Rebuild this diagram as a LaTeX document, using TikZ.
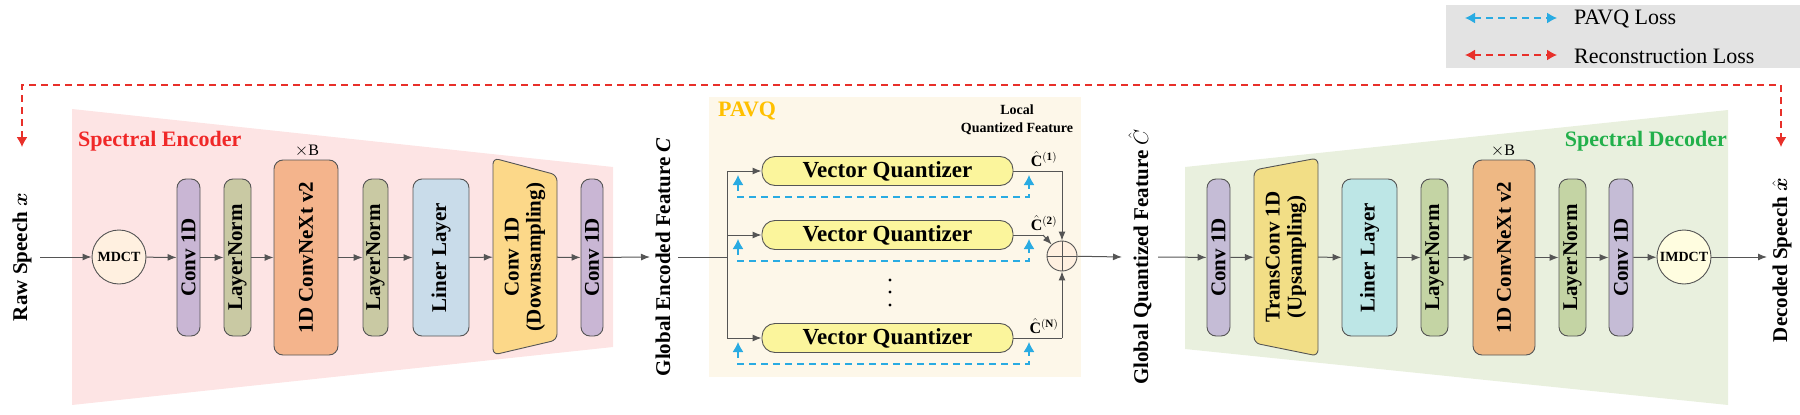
\documentclass[tikz,border=0pt]{standalone}
\usepackage{fontspec}
\usepackage{amsmath,bm}
\setmainfont{Liberation Serif}
\usetikzlibrary{arrows.meta}
\definecolor{encbg}{HTML}{FDE4E4}
\definecolor{decbg}{HTML}{E9F0DE}
\definecolor{pvbg}{HTML}{FDF7E9}
\definecolor{cvA}{HTML}{C9B6D4}
\definecolor{cvB}{HTML}{C5BCD6}
\definecolor{lnA}{HTML}{C9C9A3}
\definecolor{lnB}{HTML}{C4D4A4}
\definecolor{cnA}{HTML}{F4B48C}
\definecolor{cnB}{HTML}{EEB884}
\definecolor{llA}{HTML}{C9DCEA}
\definecolor{llB}{HTML}{BDE6E6}
\definecolor{dsA}{HTML}{FCD889}
\definecolor{tcB}{HTML}{F2DE86}
\definecolor{vqf}{HTML}{FBF59C}
\definecolor{lossred}{HTML}{E8302A}
\definecolor{lossblue}{HTML}{29ABE2}
\definecolor{enctext}{HTML}{F02828}
\definecolor{dectext}{HTML}{22B04B}
\definecolor{pavq}{HTML}{FFC000}
\definecolor{edge}{HTML}{555555}
\begin{document}
\begin{tikzpicture}[x=1pt,y=-1pt,
  blk/.style={draw=edge,line width=0.9pt,rounded corners=9pt,rotate=90,inner sep=0pt,align=center,
     font=\fontsize{21}{22}\selectfont\bfseries},
  lbl/.style={rotate=90,inner sep=0pt,font=\fontsize{21}{22}\selectfont\bfseries},
  flow/.style={draw=edge,line width=1pt,-{Latex[length=9pt,width=7pt]}},
  ln/.style={draw=edge,line width=1pt},
  vq/.style={draw=edge,line width=0.9pt,rounded corners=13pt,fill=vqf,minimum width=251pt,minimum height=29pt,inner sep=0pt,font=\fontsize{23}{24}\selectfont\bfseries},
  blue/.style={draw=lossblue,line width=1.4pt,dash pattern=on 7pt off 5pt,{Latex[length=10pt,width=11pt]}-{Latex[length=10pt,width=11pt]}},
  red/.style={draw=lossred,line width=1.4pt,dash pattern=on 7pt off 5pt},
  chat/.style={inner sep=0pt,font=\fontsize{16}{16}\selectfont}
]
\useasboundingbox (0,0) rectangle (1800,415);
% backgrounds
\fill[encbg] (72,109) -- (613,167) -- (613,347) -- (72,405) -- cycle;
\fill[decbg] (1185,167) -- (1728,110) -- (1728,405) -- (1185,349) -- cycle;
\fill[pvbg] (709,97) rectangle (1081,377);
\fill[black!11] (1446,5) rectangle (1800,68);
% legend
\coordinate (lb1) at (1465,18); \coordinate (lb2) at (1557,18);
\coordinate (lr1) at (1465,55); \coordinate (lr2) at (1557,55);
\draw[blue] (lb1) -- (lb2);
\draw[red,{Latex[length=10pt,width=11pt]}-{Latex[length=10pt,width=11pt]}] (lr1) -- (lr2);
\node[anchor=west,inner sep=0pt,font=\fontsize{22}{22}\selectfont] (tb) at (1574,19) {PAVQ Loss};
\node[anchor=west,inner sep=0pt,font=\fontsize{22}{22}\selectfont] (tr) at (1574,56) {Reconstruction Loss};
% titles
\node[anchor=west,inner sep=0pt,text=enctext,font=\fontsize{22}{22}\selectfont\bfseries] (te) at (78,141) {Spectral Encoder};
\node[anchor=east,inner sep=0pt,text=dectext,font=\fontsize{22}{22}\selectfont\bfseries] (td) at (1727,141) {Spectral Decoder};
\node[anchor=west,inner sep=0pt,text=pavq,font=\fontsize{22}{22}\selectfont\bfseries] (tp) at (718,111) {PAVQ};
\node[align=center,inner sep=0pt,font=\fontsize{14}{18}\selectfont\bfseries] (tl) at (1017,120) {Local\\Quantized Feature};
% reconstruction loss
\coordinate (r1) at (22,147); \coordinate (r2) at (22,85);
\coordinate (r3) at (1781,85); \coordinate (r4) at (1781,147);
\draw[red,{Latex[length=10pt,width=11pt]}-{Latex[length=10pt,width=11pt]}] (r1) -- (r2) -- (r3) -- (r4);
% side labels
\node[lbl] (raw) at (22,257) {Raw Speech $\bm{x}$};
\node[lbl] (gef) at (663,257) {Global Encoded Feature \textit{C}};
\node[lbl] (gqf) at (1140,257) {Global Quantized Feature $\hat{C}$};
\node[lbl] (dec) at (1782,260) {Decoded Speech $\hat{\bm{x}}$};
% encoder
\node[circle,draw=edge,line width=0.9pt,fill=orange!12,minimum size=54pt,inner sep=0pt,font=\fontsize{14}{14}\selectfont\bfseries] (mdct) at (119,257) {MDCT};
\node[blk,fill=cvA,minimum width=157pt,minimum height=23pt] (c1) at (188.5,257.5) {Conv 1D};
\node[blk,fill=lnA,minimum width=157pt,minimum height=27pt] (n1) at (237.5,257.5) {LayerNorm};
\node[blk,fill=cnA,minimum width=195pt,minimum height=64pt] (x1) at (306,257.5) {1D ConvNeXt v2};
\node[inner sep=0pt,font=\fontsize{16}{16}\selectfont] (b1) at (307,151) {$\times$B};
\node[blk,fill=lnA,minimum width=157pt,minimum height=25pt] (n2) at (375.5,257.5) {LayerNorm};
\node[blk,fill=llA,minimum width=157pt,minimum height=56pt] (l1) at (441,257.5) {Liner Layer};
\draw[draw=edge,line width=0.9pt,fill=dsA,rounded corners=6pt] (493,158) -- (557,175) -- (557,340) -- (493,355) -- cycle;
\node[lbl,minimum width=157pt,minimum height=64pt,align=center] (ds) at (525,257) {Conv 1D\\(Downsampling)};
\node[blk,fill=cvA,minimum width=157pt,minimum height=22pt] (c2) at (592,257.5) {Conv 1D};
\coordinate (s0) at (40,257);
\coordinate (e0) at (650,257);
\draw[flow] (s0) -- (mdct);
\draw[flow] (mdct) -- (c1);
\draw[flow] (c1) -- (n1);
\draw[flow] (n1) -- (x1);
\draw[flow] (x1) -- (n2);
\draw[flow] (n2) -- (l1);
\draw[flow] (l1) -- (ds);
\draw[flow] (ds) -- (c2);
\draw[flow] (c2) -- (e0);
% PAVQ
\node[vq] (q1) at (887.5,171) {Vector Quantizer};
\node[vq] (q2) at (887.5,235) {Vector Quantizer};
\node[vq] (q3) at (887.5,338) {Vector Quantizer};
\foreach \yy in {280,292,305} \fill (890,\yy) circle (1.6pt);
\coordinate (g0) at (678,257); \coordinate (g1) at (727,257);
\coordinate (t1) at (727,171); \coordinate (t2) at (727,235); \coordinate (t3) at (727,338);
\draw[ln] (g0) -- (g1);
\draw[ln] (t1) -- (t3);
\draw[flow] (t1) -- (q1);
\draw[flow] (t2) -- (q2);
\draw[flow] (t3) -- (q3);
\foreach \i/\yc in {1/171,2/235,3/338}{
  \coordinate (bl\i) at (738,\yc+4); \coordinate (bm\i) at (738,\yc+26);
  \coordinate (bn\i) at (1029,\yc+26); \coordinate (br\i) at (1029,\yc+4);
  \draw[blue] (bl\i) -- (bm\i) -- (bn\i) -- (br\i);
}
\node[circle,draw=edge,line width=0.9pt,fill=orange!12,minimum size=30pt,inner sep=0pt] (sum) at (1062,256) {};
\draw[ln,line width=0.8pt] (sum.north) -- (sum.south) (sum.west) -- (sum.east);
\coordinate (o1) at (1062,171); \coordinate (o2) at (1043,235); \coordinate (o3) at (1062,338);
\draw[ln] (q1) -- (o1);
\draw[flow] (o1) -- (sum);
\draw[ln] (q2) -- (o2);
\draw[flow] (o2) -- (sum);
\draw[ln] (q3) -- (o3);
\draw[flow] (o3) -- (sum);
\node[chat,anchor=south] (h1) at (1044,167) {$\hat{\mathbf{C}}^{\mathbf{(1)}}$};
\node[chat,anchor=south] (h2) at (1044,231) {$\hat{\mathbf{C}}^{\mathbf{(2)}}$};
\node[chat,anchor=south] (h3) at (1044,334) {$\hat{\mathbf{C}}^{\mathbf{(N)}}$};
\coordinate (p0) at (1122,257);
\draw[flow] (sum) -- (p0);
% decoder
\coordinate (d0) at (1158,257);
\node[blk,fill=cvB,minimum width=157pt,minimum height=23pt] (c3) at (1218.5,257.5) {Conv 1D};
\draw[draw=edge,line width=0.9pt,fill=tcB,rounded corners=6pt] (1254,170) -- (1318,158) -- (1318,356) -- (1254,343) -- cycle;
\node[lbl,minimum width=157pt,minimum height=64pt,align=center] (tc) at (1286,257) {TransConv 1D\\(Upsampling)};
\node[blk,fill=llB,minimum width=157pt,minimum height=55pt] (l2) at (1369.5,257.5) {Liner Layer};
\node[blk,fill=lnB,minimum width=157pt,minimum height=27pt] (n3) at (1434.5,257.5) {LayerNorm};
\node[blk,fill=cnB,minimum width=195pt,minimum height=62pt] (x2) at (1504,257.5) {1D ConvNeXt v2};
\node[inner sep=0pt,font=\fontsize{16}{16}\selectfont] (b2) at (1503,151) {$\times$B};
\node[blk,fill=lnB,minimum width=157pt,minimum height=27pt] (n4) at (1572.5,257.5) {LayerNorm};
\node[blk,fill=cvB,minimum width=157pt,minimum height=24pt] (c4) at (1621,257.5) {Conv 1D};
\node[circle,draw=edge,line width=0.9pt,fill=yellow!12,minimum size=54pt,inner sep=0pt,font=\fontsize{14}{14}\selectfont\bfseries] (imdct) at (1684,257) {IMDCT};
\coordinate (d9) at (1767,257);
\draw[flow] (d0) -- (c3);
\draw[flow] (c3) -- (tc);
\draw[flow] (tc) -- (l2);
\draw[flow] (l2) -- (n3);
\draw[flow] (n3) -- (x2);
\draw[flow] (x2) -- (n4);
\draw[flow] (n4) -- (c4);
\draw[flow] (c4) -- (imdct);
\draw[flow] (imdct) -- (d9);
\end{tikzpicture}
\end{document}
